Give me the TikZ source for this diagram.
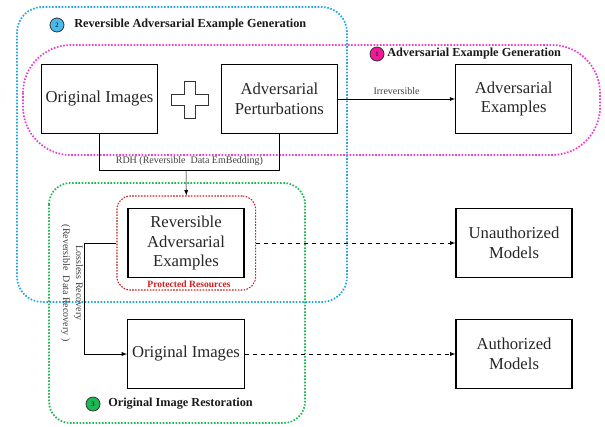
\documentclass[tikz,border=0pt]{standalone}
\usepackage{fontspec}
\setmainfont{Liberation Serif}
\usetikzlibrary{positioning}
\definecolor{regblue}{HTML}{1CA9E6}
\definecolor{regpink}{HTML}{F03CC8}
\definecolor{reggreen}{HTML}{1DB954}
\definecolor{regred}{HTML}{D01C1C}
\begin{document}
\begin{tikzpicture}[x=0.75pt,y=-0.75pt,
  box/.style={draw,line width=0.85pt,minimum width=87pt,minimum height=52pt,align=center,
    text=black!85,font=\fontsize{12.5}{14.8}\selectfont},
  region/.style={line width=1.3pt,dash pattern=on 1.2pt off 1.2pt},
  tag/.style={circle,draw=black!80,line width=0.6pt,inner sep=0pt,minimum size=10.5pt,
    font=\fontsize{5}{6}\selectfont},
  title/.style={anchor=west,inner sep=0pt,text=black!90,font=\bfseries\fontsize{9.2}{11}\selectfont},
  note/.style={text=black!75,font=\fontsize{7.5}{9.5}\selectfont}]
\useasboundingbox (0,0) rectangle (605,426);
% the three stages
\draw[region,regpink,rounded corners=36pt] (23,45) rectangle (600,155);
\draw[region,reggreen,rounded corners=16pt] (49,183) rectangle (305,423);
\draw[region,regblue,rounded corners=19pt] (17,7) rectangle (347,302);
\node[tag,fill=regblue!80] (T2) at (57,25) {2};
\node[title] (N2) at (74,25) {Reversible Adversarial Example Generation};
\node[tag,fill=magenta!90!white] (T1) at (377,54) {1};
\node[title] (N1) at (387,54) {Adversarial Example Generation};
\node[tag,fill=reggreen] (T3) at (93,404) {3};
\node[title] (N3) at (108,404) {Original Image Restoration};
% boxes
\node[box] (O1) at (99.5,99) {Original Images};
\node[box] (P) at (279.4,99) {Adversarial\\Perturbations};
\node[box] (AE) at (513.7,99) {Adversarial\\Examples};
\node[draw=regred,line width=0.8pt,dash pattern=on 1.2pt off 1pt,rounded corners=10pt,
  minimum width=104pt,minimum height=70.5pt] (R) at (186.3,243) {};
\node[box] (RAE) at (186,243) {Reversible\\Adversarial\\Examples};
\node[text=regred,inner sep=0pt,font=\bfseries\fontsize{7.2}{9}\selectfont] (PR) at (189,284) {Protected Resources};
\node[box] (UM) at (514,243) {Unauthorized\\Models};
\node[box] (AM) at (514,354) {Authorized\\Models};
\node[box] (O2) at (186,354) {Original Images};
% plus sign
\draw[line width=0.6pt,draw=black!80,fill=white] (184.5,81.5) -- (195.5,81.5) -- (195.5,94.5) -- (208.5,94.5)
  -- (208.5,105.5) -- (195.5,105.5) -- (195.5,118.5) -- (184.5,118.5) -- (184.5,105.5)
  -- (171.5,105.5) -- (171.5,94.5) -- (184.5,94.5) -- cycle;
% connectors
\coordinate (J) at (186,170);
\draw[->,>=latex,thin] (P) -- node[note,above]{Irreversible} (AE);
\draw[thin] (O1.south) -- (O1.south |- J) -- node[note,above]{RDH (Reversible~ Data EmBedding)} (P.south |- J) -- (P.south);
\draw[->,>=latex,thin] (J) -- (R.north);
\draw[->,>=latex,thin,dashed] (R.east) -- (UM.west);
\draw[->,>=latex,thin,dashed] (O2) -- (AM);
\draw[->,>=latex,thin] (R.west) -- ++(-31.7,0) coordinate (K) |- (O2.west);
\node[note,rotate=-90,align=center,font=\fontsize{7.5}{9.8}\selectfont] (LR) at (72,283) {Lossless Recovery\\(Reversible~ Data Recovery )};
\end{tikzpicture}
\end{document}
